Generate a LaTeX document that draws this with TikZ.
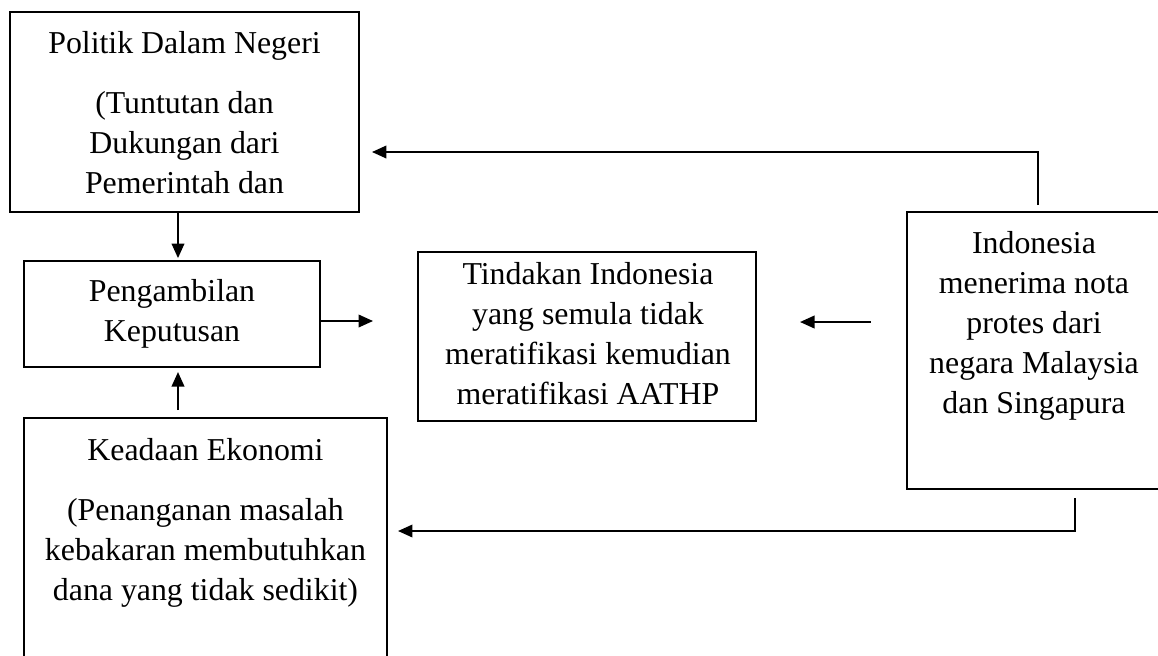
\documentclass[tikz,border=0pt]{standalone}
\usepackage{fontspec}
\setmainfont{Liberation Serif}
\usetikzlibrary{arrows.meta,fit,calc}
\newcommand{\tstrut}{\rule{0pt}{12pt}}
\begin{document}
\begin{tikzpicture}[x=0.5181pt,y=-0.5181pt,
  box/.style={draw, line width=0.75pt, inner sep=0pt, outer sep=0pt},
  txt/.style={font=\fontsize{16.5}{20.8}\selectfont, align=center, inner sep=0pt, anchor=north},
  arr/.style={line width=1pt, -{Triangle[length=7.5pt,width=6.5pt]}}
]
\useasboundingbox (0,0) rectangle (1158,655);
\clip (0,0) rectangle (1158,655);

% boxes
\node[box, fit={(10,12) (359,212)}] (A) {};
\node[box, fit={(24,261) (320,367)}] (B) {};
\node[box, fit={(24,418) (387,700)}] (C) {};
\node[box, fit={(418,252) (756,421)}] (D) {};
\node[box, fit={(907,212) (1163,489)}] (E) {};

% texts
\node[txt] (A1) at (184.5,29.8) {\tstrut Politik Dalam Negeri};
\node[txt] (A2) at (184.5,89.8) {\tstrut(Tuntutan dan\\Dukungan dari\\Pemerintah dan};
\node[txt] (B1) at (172,277.8) {\tstrut Pengambilan\\Keputusan};
\node[txt] (C1) at (205.5,436.8) {\tstrut Keadaan Ekonomi};
\node[txt] (C2) at (205.5,496.8) {\tstrut(Penanganan masalah\\kebakaran membutuhkan\\dana yang tidak sedikit)};
\node[txt] (D1) at (588,260.8) {\tstrut Tindakan Indonesia\\yang semula tidak\\meratifikasi kemudian\\meratifikasi AATHP};
\node[txt] (E1) at (1034,229.8) {\tstrut Indonesia\\menerima nota\\protes dari\\negara Malaysia\\dan Singapura};

% helper coordinates
\coordinate (pV) at (178,0);
\coordinate (pBD) at (0,321);
\coordinate (pED) at (0,322);
\coordinate (t1) at (1038,152);
\coordinate (b1) at (1075,531);

% connectors
\draw[arr, shorten >=1.5pt] (A.south -| pV) -- (B.north -| pV);
\draw[arr, shorten <=4.1pt, shorten >=2.6pt] (C.north -| pV) -- (B.south -| pV);
\draw[arr, shorten >=23.3pt] (B.east |- pBD) -- (D.west |- pBD);
\draw[arr, shorten <=18.7pt, shorten >=22.8pt] (E.west |- pED) -- (D.east |- pED);
\draw[arr, shorten <=3.6pt, shorten >=6.7pt] (E.north -| t1) -- (t1) -- (A.east |- t1);
\draw[arr, shorten <=4.7pt, shorten >=5.7pt] (E.south -| b1) -- (b1) -- (C.east |- b1);
\end{tikzpicture}
\end{document}
